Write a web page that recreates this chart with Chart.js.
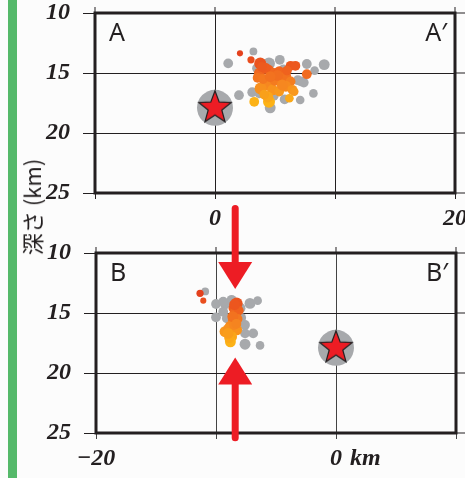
<!DOCTYPE html>
<html>
<head>
<meta charset="utf-8">
<script src="https://cdn.jsdelivr.net/npm/chart.js@4.4.1/dist/chart.umd.min.js"></script>
<style>
html, body { margin: 0; padding: 0; background: #fcfcfc; }
#wrap { position: relative; width: 465px; height: 478px; overflow: hidden; }
#greenBar { position: absolute; left: 8px; top: 0; width: 9px; height: 478px; background: #55b96a; }
#cvA { position: absolute; left: 0; top: 0; }
#cvB { position: absolute; left: 0; top: 200px; }
#yTitle {
    position: absolute; left: 31px; top: 207px;
    transform: translate(-50%, -50%) rotate(-90deg);
    white-space: nowrap; line-height: 1;
    font: 22px "Noto Sans CJK JP"; color: #231f20;
}
</style>
</head>
<body>
<div id="wrap">
    <div id="greenBar"></div>
    <canvas id="cvA" width="465" height="240"></canvas>
    <canvas id="cvB" width="465" height="278"></canvas>
    <div id="yTitle">深さ (km)</div>
</div>
<script>
// --- data (km along profile, depth km, magnitude) ---
const depthTicks = [10, 15, 20, 25];
const xTicksA = [-10, 0, 10, 20];
const xTicksB = [-20, -10, 0, 10];

const mainX = [0];
const mainDepth = [17.9];

// profile A-A'
const grayA_x =     [1.1, 3.2, 4.5, 5.4, 7.65, 9.1, 8.3, 5.7, 7.15, 7.4, 8.2, 5.8, 7.1, 2.0, 3.1, 3.7, 4.6, 4.2, 6.0, 3.5, 4.9, 6.9, 5.2];
const grayA_depth = [14.2, 13.2, 14.2, 13.9, 14.25, 14.3, 14.8, 14.7, 15.7, 15.8, 16.7, 17.2, 17.25, 16.85, 16.6, 16.7, 17.9, 15.8, 16.0, 14.6, 16.9, 15.6, 15.45];
const grayA_mag =   [1.7, 1.0, 2.5, 1.7, 1.7, 2.1, 1.3, 1.7, 1.7, 1.7, 1.3, 1.7, 1.3, 1.7, 1.7, 1.7, 2.1, 1.7, 1.7, 1.7, 1.7, 1.7, 1.7];

const quakeA_x =     [2.08, 3.0, 3.77, 3.7, 3.55, 4.5, 4.9, 5.35, 5.6, 6.3, 6.7, 7.65, 4.4, 3.8, 4.8, 5.35, 5.9, 6.3, 5.9, 6.45, 6.6, 3.27, 4.5, 4.4, 6.2, 4.2, 5.0, 4.0, 5.2, 4.6, 5.6, 4.1, 3.9, 6.0];
const quakeA_depth = [13.36, 13.9, 14.2, 15.0, 15.4, 14.75, 15.0, 14.9, 15.4, 14.4, 14.4, 15.1, 16.0, 16.3, 16.4, 16.55, 15.3, 15.7, 16.1, 16.4, 16.55, 17.4, 17.4, 17.0, 17.1, 14.6, 15.6, 15.5, 15.2, 15.3, 16.0, 16.8, 14.5, 14.8];
const quakeA_mag =   [0.4, 0.8, 2.5, 2.1, 1.7, 1.7, 1.7, 2.1, 1.7, 1.7, 1.7, 1.7, 2.1, 2.5, 2.1, 1.7, 2.1, 1.7, 2.1, 1.7, 1.3, 1.7, 2.5, 2.1, 1.3, 2.1, 2.1, 1.7, 2.1, 2.1, 2.1, 1.7, 1.7, 1.7];

// profile B-B'
const grayB_x =     [-10.9, -10.0, -10.0, -9.25, -8.7, -7.17, -6.53, -7.58, -7.58, -6.9, -7.58, -6.33, -9.4, -9.1, -8.0, -7.9, -9.4];
const grayB_depth = [13.2, 14.25, 15.36, 14.3, 13.9, 14.2, 13.97, 16.0, 16.7, 16.7, 17.6, 17.7, 14.9, 15.45, 14.6, 15.4, 14.05];
const grayB_mag =   [1.0, 1.7, 1.7, 1.7, 1.7, 2.1, 1.3, 1.7, 1.7, 1.7, 2.1, 1.3, 1.7, 1.7, 2.1, 1.7, 1.7];

const quakeB_x =     [-11.33, -11.06, -8.28, -8.5, -8.4, -8.1, -8.55, -8.2, -8.8, -9.25, -8.28, -8.7, -8.8, -9.0, -8.5, -8.9, -8.6, -8.3, -9.0, -8.45];
const quakeB_depth = [13.36, 13.97, 14.2, 14.6, 15.0, 14.8, 15.6, 15.5, 16.1, 16.55, 16.4, 16.97, 17.4, 16.3, 16.0, 17.1, 15.3, 15.9, 16.7, 14.3];
const quakeB_mag =   [0.8, 0.4, 2.5, 2.1, 2.1, 1.7, 2.1, 1.7, 2.1, 2.1, 2.1, 2.1, 2.1, 1.7, 1.7, 1.7, 2.1, 1.7, 2.1, 2.1];

// arrows on profile B (km along profile)
const arrowX = -8.4;

// --- helpers ---
const ink = '#231f20';
const numFont = 'italic bold 24px "Liberation Serif"';

function toPoints(xs, ds) {
    return xs.map((v, i) => ({ x: v, y: ds[i] }));
}

function magRadius(m) {
    return 2.5 + 1.4 * m;
}

function depthColor(d) {
    const stops = [
        [13.3, [228, 64, 29]],
        [14.6, [238, 92, 30]],
        [16.0, [246, 135, 32]],
        [17.4, [252, 178, 22]]
    ];
    if (d <= stops[0][0]) return `rgb(${stops[0][1].join(',')})`;
    for (let i = 1; i < stops.length; i++) {
        if (d <= stops[i][0]) {
            const t = (d - stops[i - 1][0]) / (stops[i][0] - stops[i - 1][0]);
            const c = stops[i - 1][1].map((v, k) => Math.round(v + (stops[i][1][k] - v) * t));
            return `rgb(${c.join(',')})`;
        }
    }
    return `rgb(${stops[stops.length - 1][1].join(',')})`;
}

function makeStar(r) {
    const c = document.createElement('canvas');
    const s = Math.ceil(r * 2 + 4);
    c.width = s; c.height = s;
    const g = c.getContext('2d');
    g.beginPath();
    for (let i = 0; i < 10; i++) {
        const rad = i % 2 ? r * 0.42 : r;
        const a = -Math.PI / 2 + i * Math.PI / 5;
        g.lineTo(s / 2 + rad * Math.cos(a), s / 2 + rad * Math.sin(a));
    }
    g.closePath();
    g.fillStyle = '#ed1c24';
    g.fill();
    g.lineWidth = 1.2;
    g.strokeStyle = ink;
    g.stroke();
    return c;
}
const starImg = makeStar(17);

function fmtTick(v) {
    return v < 0 ? '\u2212' + Math.abs(v) : String(v);
}

const panelFrame = {
    id: 'panelFrame',
    afterDraw(chart, args, opts) {
        const { ctx, chartArea: a, scales: { x, y } } = chart;
        ctx.save();
        ctx.strokeStyle = ink;
        ctx.lineWidth = 1;
        ctx.beginPath();
        x.ticks.forEach(t => {
            const px = x.getPixelForValue(t.value);
            ctx.moveTo(px, a.top - 6); ctx.lineTo(px, a.top);
        });
        y.ticks.forEach(t => {
            const py = y.getPixelForValue(t.value);
            ctx.moveTo(a.right, py); ctx.lineTo(a.right + 10, py);
        });
        ctx.stroke();

        ctx.lineWidth = 3;
        ctx.strokeRect(a.left, a.top, a.right - a.left, a.bottom - a.top);

        // tick labels
        ctx.fillStyle = ink;
        ctx.font = numFont;
        ctx.textBaseline = 'middle';
        ctx.textAlign = 'right';
        y.ticks.forEach(t => ctx.fillText(String(t.value), a.left - 25, y.getPixelForValue(t.value)));
        x.ticks.forEach(t => {
            if (!opts.xLabels.includes(t.value)) return;
            const px = x.getPixelForValue(t.value);
            ctx.textAlign = 'center';
            ctx.fillText(fmtTick(t.value), px, a.bottom + 26);
            if (t.value === 0 && opts.unit) {
                ctx.textAlign = 'left';
                ctx.fillText(opts.unit, px + 14, a.bottom + 26);
            }
        });

        // profile end labels
        ctx.font = '25px "Noto Sans"';
        ctx.textBaseline = 'alphabetic';
        ctx.textAlign = 'left';
        ctx.fillText(opts.leftLabel, a.left + 14, a.top + 28);
        ctx.textAlign = 'right';
        ctx.fillText(opts.rightLabel, a.right - 8, a.top + 28);

        if (opts.arrows) {
            const ax = x.getPixelForValue(arrowX);
            const drawArrow = (dTail, dTip) => {
                const yTail = y.getPixelForValue(dTail);
                const yTip = y.getPixelForValue(dTip);
                const dir = Math.sign(yTip - yTail);
                const yBase = yTip - dir * 27;
                ctx.strokeStyle = '#ed1c24';
                ctx.fillStyle = '#ed1c24';
                ctx.lineWidth = 7;
                ctx.lineCap = 'round';
                ctx.beginPath();
                ctx.moveTo(ax, yTail); ctx.lineTo(ax, yBase + dir * 2);
                ctx.stroke();
                ctx.beginPath();
                ctx.moveTo(ax - 17, yBase); ctx.lineTo(ax + 17, yBase); ctx.lineTo(ax, yTip);
                ctx.closePath();
                ctx.fill();
            };
            drawArrow(6.3, 13.0);
            drawArrow(25.4, 18.7);
        }
        ctx.restore();
    }
};

function makePanel(canvasId, cfg) {
    const ctx = document.getElementById(canvasId).getContext('2d');
    return new Chart(ctx, {
        type: 'scatter',
        data: {
            datasets: [
                {
                    data: toPoints(mainX, mainDepth),
                    pointStyle: starImg,
                    pointRadius: 17,
                    order: 0
                },
                {
                    data: toPoints(mainX, mainDepth),
                    backgroundColor: '#a7a9ac',
                    borderWidth: 0,
                    pointRadius: 18,
                    order: 1
                },
                {
                    data: toPoints(cfg.quakeX, cfg.quakeDepth),
                    backgroundColor: c => depthColor(c.raw ? c.raw.y : 15),
                    borderWidth: 0,
                    pointRadius: c => magRadius(cfg.quakeMag[c.dataIndex] || 1),
                    order: 2
                },
                {
                    data: toPoints(cfg.grayX, cfg.grayDepth),
                    backgroundColor: '#a7a9ac',
                    borderWidth: 0,
                    pointRadius: c => magRadius(cfg.grayMag[c.dataIndex] || 1),
                    order: 3
                }
            ]
        },
        options: {
            responsive: false,
            animation: false,
            events: [],
            layout: {
                autoPadding: false,
                padding: { top: cfg.padTop, right: cfg.padRight, left: 0, bottom: 0 }
            },
            plugins: {
                legend: { display: false },
                tooltip: { enabled: false },
                panelFrame: {
                    leftLabel: cfg.leftLabel, rightLabel: cfg.rightLabel,
                    xLabels: cfg.xLabels, unit: cfg.unit, arrows: cfg.arrows
                }
            },
            scales: {
                x: {
                    type: 'linear',
                    min: cfg.xTicks[0],
                    max: cfg.xTicks[cfg.xTicks.length - 1],
                    afterBuildTicks: s => { s.ticks = cfg.xTicks.map(v => ({ value: v })); },
                    afterFit: s => { s.height = cfg.xAxisHeight; },
                    ticks: { display: false },
                    grid: { color: cfg.vGridColor, lineWidth: 1, tickLength: 6 },
                    border: { display: false }
                },
                y: {
                    type: 'linear',
                    reverse: true,
                    min: depthTicks[0],
                    max: depthTicks[depthTicks.length - 1],
                    afterBuildTicks: s => { s.ticks = depthTicks.map(v => ({ value: v })); },
                    afterFit: s => { s.width = cfg.yAxisWidth; },
                    ticks: { display: false },
                    grid: { color: ink, lineWidth: 1, tickLength: 12 },
                    border: { display: false }
                }
            }
        },
        plugins: [panelFrame]
    });
}

const chartA = makePanel('cvA', {
    quakeX: quakeA_x, quakeDepth: quakeA_depth, quakeMag: quakeA_mag,
    grayX: grayA_x, grayDepth: grayA_depth, grayMag: grayA_mag,
    xTicks: xTicksA, xLabels: [0, 20],
    padTop: 13, padRight: 10, xAxisHeight: 47, yAxisWidth: 95,
    vGridColor: ink,
    leftLabel: 'A', rightLabel: 'A\u2032'
});

const chartB = makePanel('cvB', {
    quakeX: quakeB_x, quakeDepth: quakeB_depth, quakeMag: quakeB_mag,
    grayX: grayB_x, grayDepth: grayB_depth, grayMag: grayB_mag,
    xTicks: xTicksB, xLabels: [-20, 0],
    padTop: 53, padRight: 9, xAxisHeight: 45, yAxisWidth: 96,
    vGridColor: '#444',
    leftLabel: 'B', rightLabel: 'B\u2032',
    unit: 'km', arrows: true
});
</script>
</body>
</html>
